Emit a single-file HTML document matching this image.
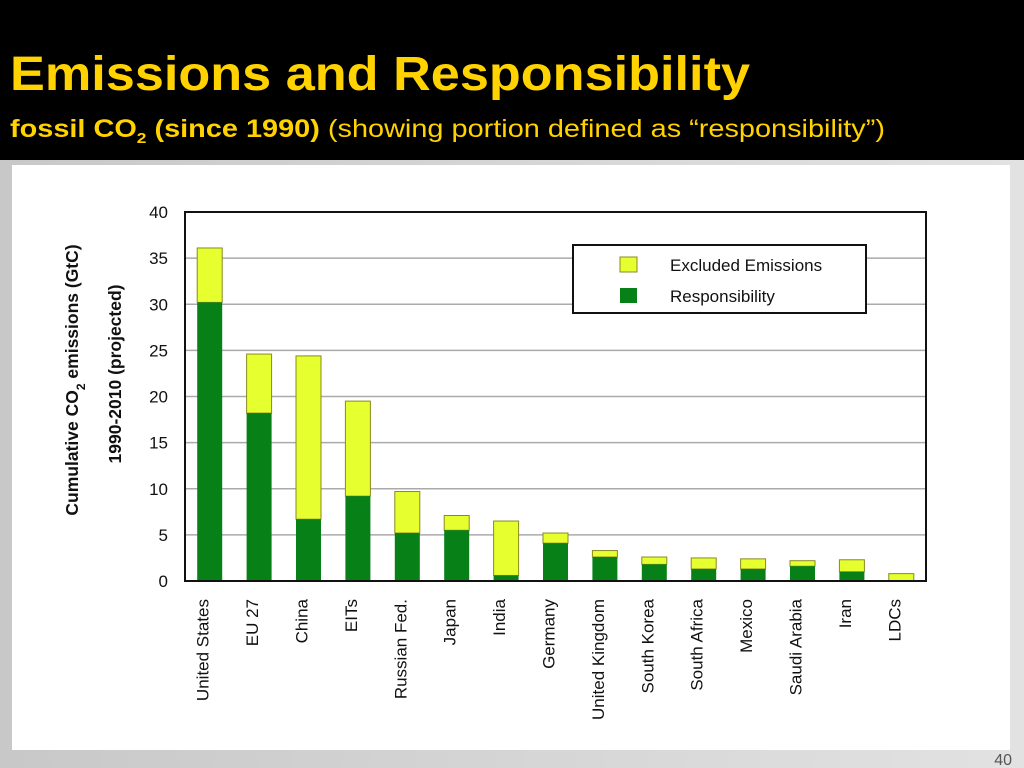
<!DOCTYPE html>
<html><head><meta charset="utf-8"><style>
html,body{margin:0;padding:0;width:1024px;height:768px;overflow:hidden;background:#bdbdbd}
svg{display:block}
</style></head><body>
<svg id="c" width="1024" height="768" xmlns="http://www.w3.org/2000/svg" font-family="Liberation Sans, Arial, sans-serif">
<defs><linearGradient id="g" x1="0" x2="1"><stop offset="0" stop-color="#c8c8c8"/><stop offset="1" stop-color="#e2e2e2"/></linearGradient></defs>
<rect width="1024" height="768" fill="url(#g)"/>
<rect x="0" y="0" width="1024" height="160" fill="#000"/>
<text x="10" y="90" fill="#ffd200" font-size="48" font-weight="bold" textLength="740" lengthAdjust="spacingAndGlyphs">Emissions and Responsibility</text>
<text x="10" y="137" fill="#ffd200" font-size="25" textLength="875" lengthAdjust="spacingAndGlyphs"><tspan font-weight="bold">fossil CO<tspan font-size="15" dy="6">2</tspan><tspan dy="-6"> (since 1990)</tspan></tspan> (showing portion defined as “responsibility”)</text>
<rect x="12" y="165" width="998" height="585" fill="#fff"/>
<text x="1012" y="765" fill="#555" font-size="16" text-anchor="end">40</text>
<g id="plot"></g>
</svg>
<script>
const categories=["United States","EU 27","China","EITs","Russian Fed.","Japan","India","Germany","United Kingdom","South Korea","South Africa","Mexico","Saudi Arabia","Iran","LDCs"];
const totalValues=[36.1,24.6,24.4,19.5,9.7,7.1,6.5,5.2,3.3,2.6,2.5,2.4,2.2,2.3,0.8];
const responsibilityValues=[30.2,18.2,6.7,9.2,5.2,5.5,0.6,4.1,2.6,1.8,1.3,1.3,1.6,1.0,0.0];
const yTicks=[0,5,10,15,20,25,30,35,40];
const NS="http://www.w3.org/2000/svg";
const g=document.getElementById('plot');
const L=185,R=926,T=212,B=581,YMAX=40;
const y=v=>B-(v/YMAX)*(B-T);
const slot=(R-L)/categories.length;
const xc=i=>L+slot*(i+0.5);
function mk(tag,attrs,parent){const e=document.createElementNS(NS,tag);for(const k in attrs)e.setAttribute(k,attrs[k]);(parent||g).appendChild(e);return e;}
yTicks.forEach(t=>{
  if(t>0&&t<YMAX){const l=mk('line',{x1:L,x2:R,y1:y(t),y2:y(t),stroke:'#aaa','stroke-width':1.5});
  
  }
  const tx=mk('text',{x:168,y:y(t)+6,'font-size':17,'text-anchor':'end',fill:'#111'});tx.textContent=t;
  
  
});
const bw=25;
categories.forEach((c,i)=>{
  const x=xc(i)-bw/2;
  const ex=mk('rect',{x:x,y:y(totalValues[i]),width:bw,height:y(responsibilityValues[i])-y(totalValues[i]),fill:'#e6ff2e',stroke:'#8a8a20','stroke-width':1});
  
  
  const rs=mk('rect',{x:x,y:y(responsibilityValues[i]),width:bw,height:B-y(responsibilityValues[i]),fill:'#078018'});
  
  
  const lb=mk('text',{transform:`translate(${xc(i)-1},599) rotate(-90)`,'font-size':17,'text-anchor':'end',fill:'#111'});lb.textContent=c;
  
  
});
const fr=mk('rect',{x:L,y:T,width:R-L,height:B-T,fill:'none',stroke:'#111','stroke-width':2});


const lg=mk('g',{});


mk('rect',{x:573,y:245,width:293,height:68,fill:'#fff',stroke:'#111','stroke-width':2},lg);
const s1=mk('rect',{x:620,y:257,width:17,height:15,fill:'#e6ff2e',stroke:'#8a8a20'},lg);


const s2=mk('rect',{x:620,y:288,width:17,height:15,fill:'#078018'},lg);


const t1=mk('text',{x:670,y:271,'font-size':17,fill:'#111'},lg);t1.textContent='Excluded Emissions';


const t2=mk('text',{x:670,y:302,'font-size':17,fill:'#111'},lg);t2.textContent='Responsibility';


const yt=mk('text',{transform:'translate(78,380) rotate(-90)','font-size':17.5,'font-weight':'bold','text-anchor':'middle',fill:'#111'});
yt.innerHTML='Cumulative  CO<tspan font-size="12" dy="7">2</tspan><tspan dy="-7"> emissions (GtC)</tspan>';


const yt2=mk('text',{transform:'translate(121,374) rotate(-90)','font-size':17.5,'font-weight':'bold','text-anchor':'middle',fill:'#111'});
yt2.textContent='1990-2010 (projected)';


</script>
</body></html>
